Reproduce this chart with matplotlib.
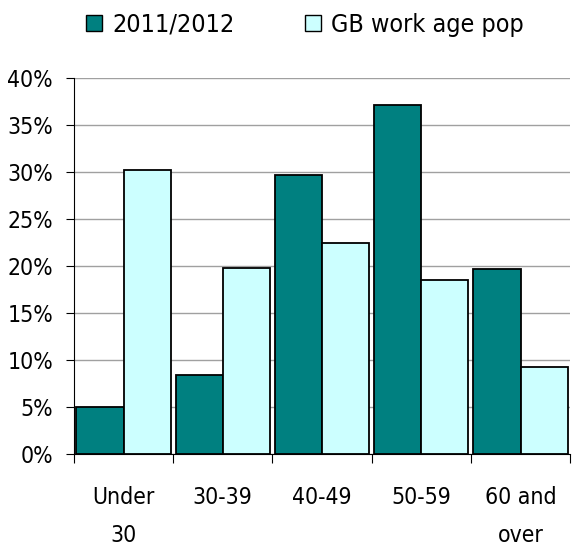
import matplotlib.pyplot as plt
import numpy as np
from matplotlib.patches import Patch

plt.rcParams['font.family'] = ['DejaVu Sans']
plt.rcParams['font.stretch'] = 'condensed'

categories = ['Under\n30', '30-39', '40-49', '50-59', '60 and\nover']
series_2011 = [5.0, 8.4, 29.7, 37.1, 19.7]
series_gb = [30.2, 19.8, 22.4, 18.5, 9.3]
y_ticks = [0, 5, 10, 15, 20, 25, 30, 35, 40]

teal = '#008080'
light = '#CCFFFF'
fs = 16.5

fig = plt.figure(figsize=(5.73, 5.49), dpi=100)
ax = fig.add_axes([0.129, 0.173, 0.866, 0.685])

x = np.arange(len(categories))
w = 0.475
ax.bar(x - w / 2, series_2011, w, color=teal, edgecolor='black', linewidth=1.3, zorder=3)
ax.bar(x + w / 2, series_gb, w, color=light, edgecolor='black', linewidth=1.3, zorder=3)

ax.set_xlim(-0.5, len(categories) - 0.5)
ax.set_ylim(0, 40)
ax.set_yticks(y_ticks)
ax.set_yticklabels([f'{t}%' for t in y_ticks], fontsize=fs)
ax.yaxis.grid(True, color='#a0a0a0', linewidth=1, zorder=0)

# category boundaries get the tick marks, labels sit in between
ax.set_xticks(np.arange(len(categories) + 1) - 0.5)
ax.set_xticklabels([])
ax.set_xticks(x, minor=True)
ax.set_xticklabels(categories, minor=True, fontsize=fs, linespacing=1.85)
ax.tick_params(axis='x', which='minor', length=0, pad=23)
ax.tick_params(axis='x', which='major', length=6.5, width=0.8)
ax.tick_params(axis='y', length=6, width=0.8, pad=9)

for s in ['top', 'right']:
    ax.spines[s].set_visible(False)

handles = [Patch(facecolor=teal, edgecolor='black', label='2011/2012'),
           Patch(facecolor=light, edgecolor='black', label='GB work age pop')]
fig.legend(handles=handles, loc='center', bbox_to_anchor=(0.532, 0.955), ncol=2,
           frameon=False, fontsize=18, handlelength=0.64, handleheight=0.64,
           handletextpad=0.4, columnspacing=2.8)

plt.savefig('out.png', dpi=100)
